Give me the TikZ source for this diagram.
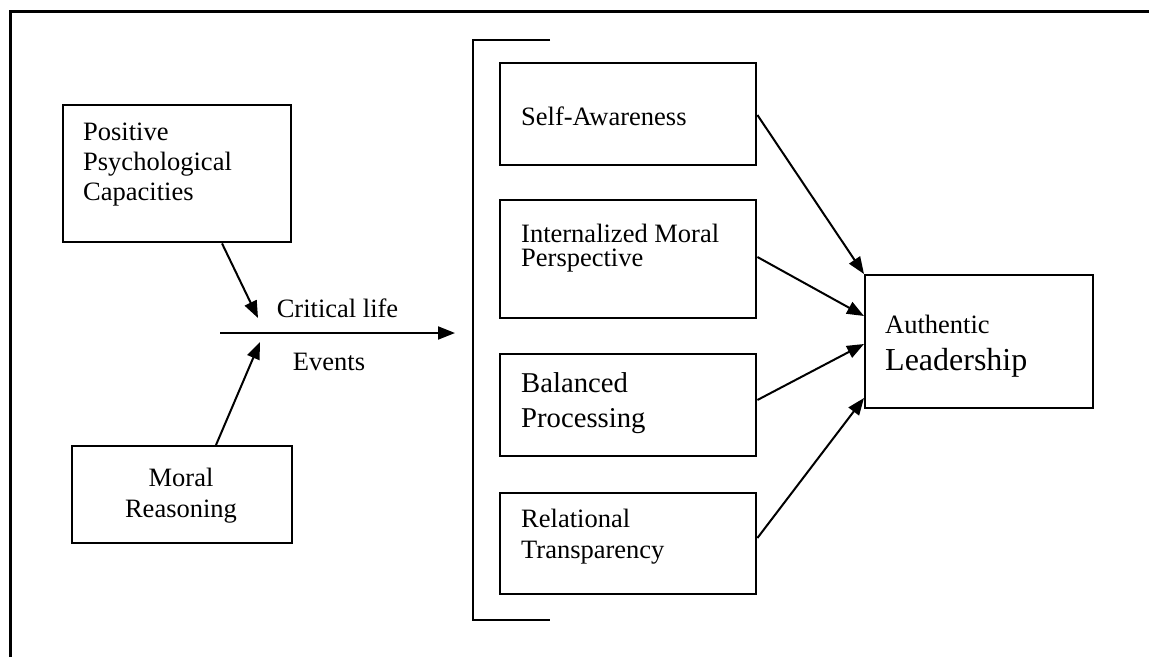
\documentclass[tikz,border=0pt]{standalone}
\usepackage{fontspec}
\setmainfont{Liberation Serif}
\usetikzlibrary{arrows.meta,calc}
\begin{document}
\begin{tikzpicture}[x=1pt,y=-1pt,
  box/.style={draw, line width=2.4pt, rectangle, inner sep=0pt, anchor=north west},
  lbl/.style={anchor=base west, inner sep=0pt, font=\fontsize{26.5}{30}\selectfont},
  clbl/.style={lbl, anchor=base},
  arr/.style={line width=2pt, -{Triangle[length=17pt,width=13pt]}},
]
\useasboundingbox (0,0) rectangle (1149,657);
% page frame (top and left rules)
\draw[line width=3pt] (10,657) -- (10,11) -- (1149,11);

% antecedent boxes
\node[box, minimum width=228pt, minimum height=137pt] (ppc) at (62,104) {};
\node[lbl] (ppc1) at (83,140) {Positive};
\node[lbl] (ppc2) at (83,170) {Psychological};
\node[lbl] (ppc3) at (83,200) {Capacities};

\node[box, minimum width=220pt, minimum height=97pt] (moral) at (71,445) {};
\node[clbl] (mor1) at (181,486) {Moral};
\node[clbl] (mor2) at (181,517) {Reasoning};

% critical life events line
\coordinate (evS) at (220,333);
\coordinate (evE) at (455,333);
\coordinate (ev1) at (258,318);
\coordinate (ev2) at (260,342);
\draw[arr] ($(ppc.south west)+(160,0)$) -- (ev1);
\draw[arr] ($(moral.north west)+(145,0)$) -- (ev2);
\draw[arr] (evS) -- (evE);
\node[clbl] (crit) at (337.5,317) {Critical life};
\node[clbl] (events) at (329,370) {Events};

% bracket around the components
\draw[line width=2.5pt] (550,40) -- (473,40) -- (473,620) -- (550,620);

% component boxes
\node[box, minimum width=256pt, minimum height=102pt] (sa) at (499,62) {};
\node[lbl] (sa1) at (521,125) {Self-Awareness};

\node[box, minimum width=256pt, minimum height=118pt] (imp) at (499,199) {};
\node[lbl] (imp1) at (521,242) {Internalized Moral};
\node[lbl] (imp2) at (521,266) {Perspective};

\node[box, minimum width=256pt, minimum height=102pt] (bp) at (499,353) {};
\node[lbl, font=\fontsize{28.7}{32}\selectfont] (bp1) at (521,392) {Balanced};
\node[lbl, font=\fontsize{28.7}{32}\selectfont] (bp2) at (521,427) {Processing};

\node[box, minimum width=256pt, minimum height=101pt] (rt) at (499,492) {};
\node[lbl] (rt1) at (521,527) {Relational};
\node[lbl] (rt2) at (521,558) {Transparency};

% outcome box
\node[box, minimum width=228pt, minimum height=133pt] (auth) at (864,274) {};
\node[lbl] (au1) at (885,333) {Authentic};
\node[lbl, font=\fontsize{32}{36}\selectfont] (au2) at (885,370) {Leadership};

% arrows into the outcome
\draw[arr] ($(sa.north east)+(0,53)$) -- (auth.north west);
\draw[arr] ($(imp.north east)+(0,58)$) -- ($(auth.north west)+(0,42)$);
\draw[arr] ($(bp.north east)+(0,47)$) -- ($(auth.north west)+(0,70)$);
\draw[arr] ($(rt.north east)+(0,46)$) -- ($(auth.north west)+(0,124)$);
\end{tikzpicture}
\end{document}
